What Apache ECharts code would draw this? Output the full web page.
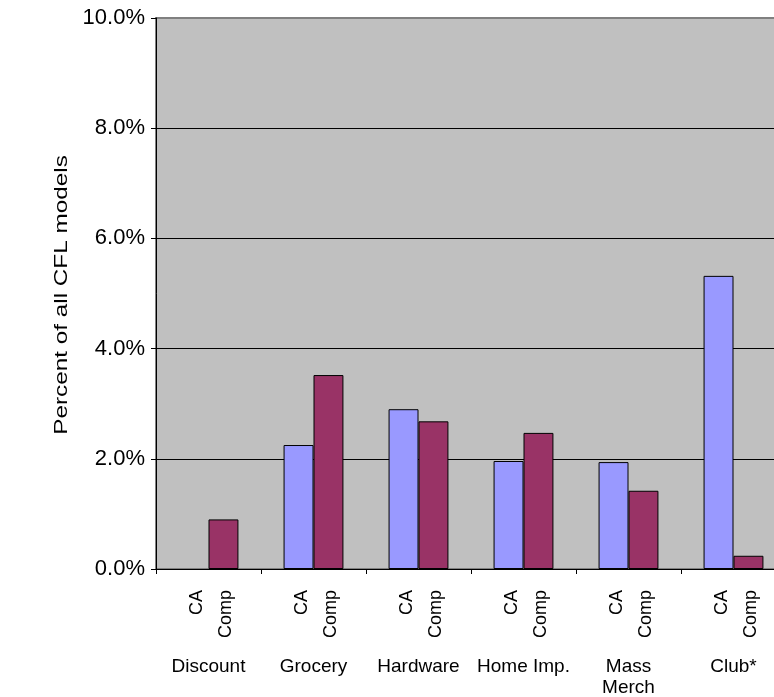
<!DOCTYPE html>
<html>
<head>
<meta charset="utf-8">
<script src="https://cdn.jsdelivr.net/npm/echarts@6/dist/echarts.min.js"></script>
<style>
  html, body { margin: 0; padding: 0; background: #fff; overflow: hidden; }
  /* the plot runs a little past the right edge of the window */
  #chart { width: 786px; height: 697px; }
</style>
</head>
<body>
<div id="chart"></div>
<script>
// Store types and share of all CFL models (percent)
const categories = ['Discount', 'Grocery', 'Hardware', 'Home Imp.', 'Mass\nMerch', 'Club*'];
const caValues   = [0, 2.25, 2.90, 1.96, 1.94, 5.32];
const compValues = [0.90, 3.52, 2.68, 2.47, 1.42, 0.24];
const seriesNames = ['CA', 'Comp'];
const yTicks = { min: 0, max: 10, step: 2 };
const yTitle = 'Percent of all CFL models';

const FONT = '"Liberation Sans", Arial, sans-serif';

const chart = echarts.init(document.getElementById('chart'), null, { renderer: 'canvas' });

// a zero-height bar keeps its label but draws no outline
function toData(values) {
  return values.map(v => v === 0 ? { value: v, itemStyle: { borderWidth: 0 } } : v);
}

function barSeries(name, values, color) {
  return {
    name: name,
    type: 'bar',
    data: toData(values),
    barGap: '0%',
    barCategoryGap: '43%',
    itemStyle: { color: color, borderColor: '#000', borderWidth: 1 },
    emphasis: { disabled: true },
    label: {
      show: true,
      // anchored at the foot of each bar, rotated to read upward
      position: ['50%', '100%'],
      offset: [-21, 3],
      rotate: 90,
      align: 'right',
      verticalAlign: 'middle',
      formatter: name,
      fontFamily: FONT,
      fontSize: 18,
      color: '#000'
    }
  };
}

chart.setOption({
  animation: false,
  grid: {
    left: 156, top: 18, right: 0, bottom: 128,
    outerBoundsMode: 'none',
    show: true,
    backgroundColor: '#C0C0C0',
    borderColor: '#808080',
    borderWidth: 2
  },
  // vertical axis title, drawn in a tall narrow face
  graphic: [{
    type: 'text',
    x: 62,
    y: 295,
    rotation: Math.PI / 2,
    scaleX: 1.35,
    scaleY: 1,
    style: {
      text: yTitle,
      fontFamily: FONT,
      fontSize: 18,
      fill: '#000',
      align: 'center',
      verticalAlign: 'middle'
    }
  }],
  xAxis: {
    type: 'category',
    data: categories,
    axisLine: { lineStyle: { color: '#000', width: 1 } },
    axisTick: { show: true, length: 5, lineStyle: { color: '#000' } },
    axisLabel: {
      margin: 87,
      interval: 0,
      fontFamily: FONT,
      fontSize: 19,
      lineHeight: 21,
      color: '#000'
    },
    splitLine: { show: false }
  },
  yAxis: {
    type: 'value',
    min: yTicks.min,
    max: yTicks.max,
    interval: yTicks.step,
    axisLine: { show: true, lineStyle: { color: '#000', width: 1 } },
    axisTick: { show: true, length: 5, lineStyle: { color: '#000' } },
    axisLabel: {
      margin: 11,
      fontFamily: FONT,
      fontSize: 22,
      color: '#000',
      formatter: v => v.toFixed(1) + '%'
    },
    splitLine: {
      show: true,
      lineStyle: { color: ['#000', '#000', '#000', '#000', '#000', '#808080'], width: 1 }
    }
  },
  series: [
    barSeries(seriesNames[0], caValues, '#9999FF'),
    barSeries(seriesNames[1], compValues, '#993366')
  ]
});
</script>
</body>
</html>
